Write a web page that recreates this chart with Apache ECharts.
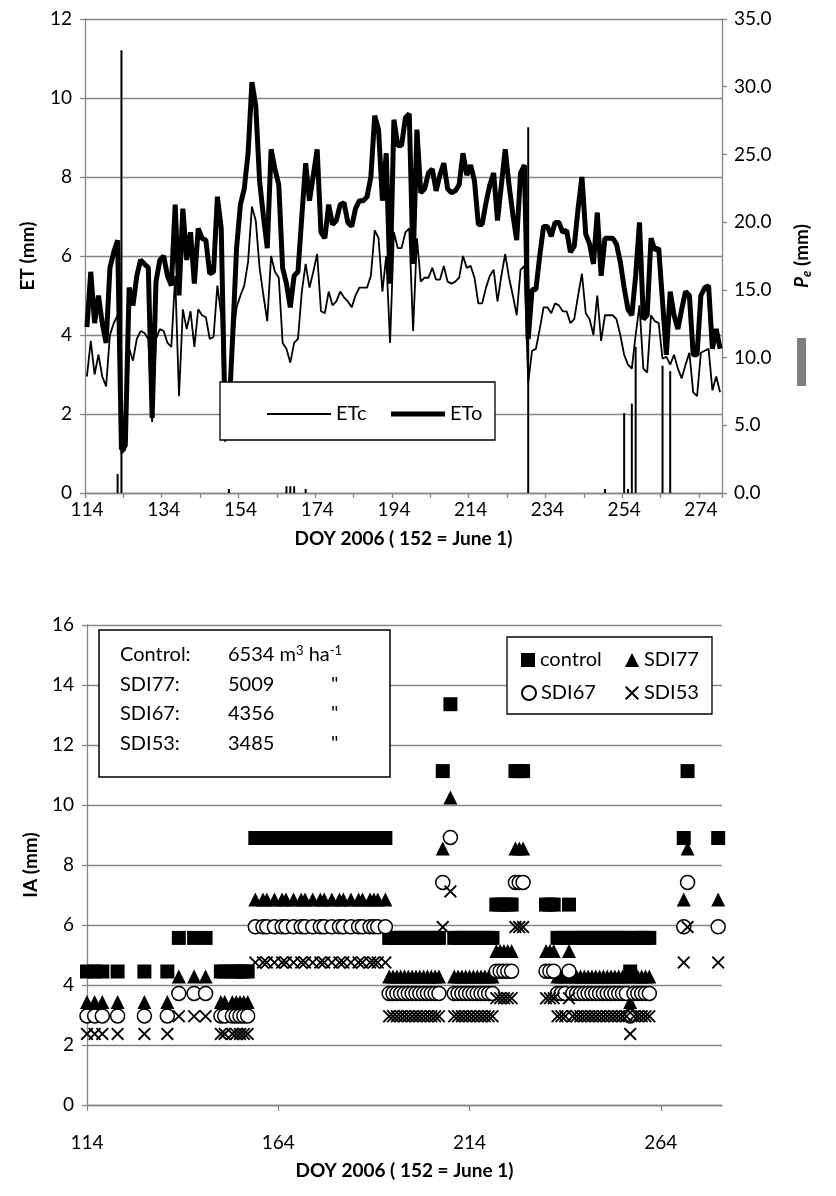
<!DOCTYPE html>
<html><head><meta charset="utf-8">
<script src="https://cdn.jsdelivr.net/npm/echarts@6/dist/echarts.min.js"></script>
<style>html,body{margin:0;padding:0;background:#fff}#c{width:836px;height:1196px}</style>
</head><body><div id="c"></div>
<script>
// ---------- Top chart data ----------
const doy = Array.from({length: 166}, (_, i) => 114 + i); // DOY 114..279 categories
const etc = [
 2.95,3.85,3.0,3.5,2.95,2.7,4.0,4.3,4.5,1.0,
 1.1,3.65,3.35,3.9,4.1,4.05,3.9,1.8,3.9,4.15,
 4.1,3.8,3.7,5.5,2.45,4.65,4.15,4.6,3.7,4.65,
 4.5,4.45,3.9,3.95,5.25,4.5,1.3,1.7,3.8,4.7,
 5.0,5.25,5.85,7.25,6.9,5.7,5.0,4.35,6.0,5.6,
 5.45,3.8,3.65,3.3,3.8,3.9,5.1,5.8,5.2,5.6,
 6.05,4.6,4.55,5.1,4.75,4.85,5.1,4.95,4.85,4.7,
 5.0,5.2,5.2,5.2,5.5,6.65,6.45,5.1,6.0,3.8,
 6.6,6.2,6.2,6.6,6.7,4.1,6.45,5.35,5.45,5.45,
 5.7,5.4,5.4,5.75,5.35,5.3,5.35,5.45,6.0,5.7,
 5.75,5.45,4.8,4.8,5.2,5.5,5.65,4.85,5.5,6.05,
 5.45,5.0,4.5,5.65,5.75,2.8,3.6,3.65,4.15,4.7,
 4.7,4.55,4.8,4.75,4.6,4.6,4.3,4.4,5.0,5.55,
 4.55,4.4,4.0,5.0,3.85,4.5,4.5,4.5,4.4,4.0,
 3.5,3.25,3.15,4.0,4.75,3.15,3.05,4.5,4.35,4.3,
 3.4,3.45,3.25,3.5,3.15,2.9,3.25,3.55,2.55,2.45,
 3.55,3.6,3.65,2.6,2.95,2.55
];
const eto = [
 4.2,5.6,4.3,5.0,4.3,3.8,5.7,6.1,6.4,1.1,
 1.2,5.2,4.75,5.5,5.9,5.8,5.7,1.9,5.35,5.9,
 6.0,5.5,5.25,7.3,5.0,7.2,5.9,6.6,5.3,6.7,
 6.45,6.4,5.55,5.6,7.5,6.7,1.9,2.0,4.0,6.2,
 7.3,7.7,8.6,10.4,9.8,7.9,7.0,6.2,8.7,8.2,
 7.8,5.7,5.3,4.7,5.5,5.6,7.0,8.35,7.4,8.05,
 8.7,6.6,6.45,7.3,6.8,6.9,7.3,7.35,6.85,6.75,
 7.2,7.4,7.4,7.5,8.0,9.55,9.2,7.4,8.6,5.3,
 9.45,8.8,8.8,9.5,9.6,5.8,9.2,7.6,7.7,8.1,
 8.2,7.65,8.05,8.35,7.7,7.6,7.65,7.8,8.6,8.05,
 8.3,7.9,6.8,6.8,7.35,7.8,8.1,6.9,7.8,8.7,
 7.8,7.05,6.4,8.1,8.3,3.9,5.15,5.15,6.0,6.75,
 6.75,6.5,6.85,6.85,6.6,6.65,6.1,6.25,7.2,8.0,
 6.55,6.3,5.8,7.1,5.5,6.45,6.45,6.45,6.3,5.85,
 5.2,4.65,4.5,5.5,6.85,4.4,4.5,6.45,6.15,6.2,
 4.85,3.5,5.1,4.5,4.15,4.65,5.1,5.0,3.5,3.5,
 5.0,5.2,5.25,3.65,4.15,3.65
];
const peDays   = [122,123,151,166,167,168,171,229,249,254,255,256,257,264,266];
const peValues = [1.4,32.7,0.3,0.5,0.5,0.5,0.3,27.0,0.3,5.9,0.3,6.6,10.8,9.4,9.0];
const etTicks = [0,2,4,6,8,10,12];
const peTicks = [0,5,10,15,20,25,30,35];

// ---------- Bottom chart data ----------
const irrDays = [
 114,116,118,122,129,135,
 138,142,145,
 149,150,152,153,154,155,156,
 158,160,161,163,165,166,168,170,171,173,175,176,178,180,181,183,185,186,188,189,190,192,
 193,194,195,196,197,198,199,200,201,202,203,204,205,206,
 207,209,
 210,211,212,213,214,215,216,217,218,219,220,
 221,222,223,224,225,
 226,227,228,
 234,235,236,
 237,238,239,
 240,
 241,242,243,244,245,246,247,248,249,250,251,252,253,254,255,
 256,
 257,258,259,260,261,
 270,271,279
];
const controlIA = [
 4.45,4.45,4.45,4.45,4.45,4.45,
 5.57,5.57,5.57,
 4.45,4.45,4.45,4.45,4.45,4.45,4.45,
 8.9,8.9,8.9,8.9,8.9,8.9,8.9,8.9,8.9,8.9,8.9,8.9,8.9,8.9,8.9,8.9,8.9,8.9,8.9,8.9,8.9,8.9,
 5.57,5.57,5.57,5.57,5.57,5.57,5.57,5.57,5.57,5.57,5.57,5.57,5.57,5.57,
 11.13,13.36,
 5.57,5.57,5.57,5.57,5.57,5.57,5.57,5.57,5.57,5.57,5.57,
 6.68,6.68,6.68,6.68,6.68,
 11.13,11.13,11.13,
 6.68,6.68,6.68,
 5.57,5.57,5.57,
 6.68,
 5.57,5.57,5.57,5.57,5.57,5.57,5.57,5.57,5.57,5.57,5.57,5.57,5.57,5.57,5.57,
 4.45,
 5.57,5.57,5.57,5.57,5.57,
 8.9,11.13,8.9
];
const sdi77IA = [
 3.43,3.43,3.43,3.43,3.43,3.43,
 4.28,4.28,4.28,
 3.43,3.43,3.43,3.43,3.43,3.43,3.43,
 6.85,6.85,6.85,6.85,6.85,6.85,6.85,6.85,6.85,6.85,6.85,6.85,6.85,6.85,6.85,6.85,6.85,6.85,6.85,6.85,6.85,6.85,
 4.28,4.28,4.28,4.28,4.28,4.28,4.28,4.28,4.28,4.28,4.28,4.28,4.28,4.28,
 8.55,10.25,
 4.28,4.28,4.28,4.28,4.28,4.28,4.28,4.28,4.28,4.28,4.28,
 5.13,5.13,5.13,5.13,5.13,
 8.55,8.55,8.55,
 5.13,5.13,5.13,
 4.28,4.28,4.28,
 5.13,
 4.28,4.28,4.28,4.28,4.28,4.28,4.28,4.28,4.28,4.28,4.28,4.28,4.28,4.28,4.28,
 3.43,
 4.28,4.28,4.28,4.28,4.28,
 6.85,8.55,6.85
];
const sdi67IA = [
 2.97,2.97,2.97,2.97,2.97,2.97,
 3.72,3.72,3.72,
 2.97,2.97,2.97,2.97,2.97,2.97,2.97,
 5.94,5.94,5.94,5.94,5.94,5.94,5.94,5.94,5.94,5.94,5.94,5.94,5.94,5.94,5.94,5.94,5.94,5.94,5.94,5.94,5.94,5.94,
 3.72,3.72,3.72,3.72,3.72,3.72,3.72,3.72,3.72,3.72,3.72,3.72,3.72,3.72,
 7.42,8.92,
 3.72,3.72,3.72,3.72,3.72,3.72,3.72,3.72,3.72,3.72,3.72,
 4.46,4.46,4.46,4.46,4.46,
 7.42,7.42,7.42,
 4.46,4.46,4.46,
 3.72,3.72,3.72,
 4.46,
 3.72,3.72,3.72,3.72,3.72,3.72,3.72,3.72,3.72,3.72,3.72,3.72,3.72,3.72,3.72,
 2.97,
 3.72,3.72,3.72,3.72,3.72,
 5.94,7.42,5.94
];
const sdi53IA = [
 2.37,2.37,2.37,2.37,2.37,2.37,
 2.96,2.96,2.96,
 2.37,2.37,2.37,2.37,2.37,2.37,2.37,
 4.75,4.75,4.75,4.75,4.75,4.75,4.75,4.75,4.75,4.75,4.75,4.75,4.75,4.75,4.75,4.75,4.75,4.75,4.75,4.75,4.75,4.75,
 2.96,2.96,2.96,2.96,2.96,2.96,2.96,2.96,2.96,2.96,2.96,2.96,2.96,2.96,
 5.93,7.12,
 2.96,2.96,2.96,2.96,2.96,2.96,2.96,2.96,2.96,2.96,2.96,
 3.56,3.56,3.56,3.56,3.56,
 5.93,5.93,5.93,
 3.56,3.56,3.56,
 2.96,2.96,2.96,
 3.56,
 2.96,2.96,2.96,2.96,2.96,2.96,2.96,2.96,2.96,2.96,2.96,2.96,2.96,2.96,2.96,
 2.37,
 2.96,2.96,2.96,2.96,2.96,
 4.75,5.93,4.75
];
const doyStart = 114, doyEnd = 280;
const boxLines = [
 ['Control:', '6534 m{s|3} ha{s|-1}', ''],
 ['SDI77:', '5009', '"'],
 ['SDI67:', '4356', '"'],
 ['SDI53:', '3485', '"']
];

// ---------- build ----------
const FONT = 'Lato';
const GRID = '#868686';
const peFull = doy.map(d => { const k = peDays.indexOf(d); return k >= 0 ? peValues[k] : null; });
const toXY = vals => irrDays.map((d, i) => [d - doyStart, vals[i]]);
const xPath = 'path://M1,0L5,4L9,0L10,1L6,5L10,9L9,10L5,6L1,10L0,9L4,5L0,1Z';

const chart = echarts.init(document.getElementById('c'), null, {renderer: 'canvas'});
const axisTxt = {color: '#000', fontFamily: FONT, fontSize: 19};
const nameTxt = {color: '#000', fontFamily: FONT, fontSize: 19, fontWeight: 'bold'};

const graphic = [
 {type: 'rect', z: 50, shape: {x: 220, y: 382, width: 275, height: 58}, style: {fill: '#fff', stroke: '#000', lineWidth: 1.3}},
 {type: 'rect', z: 50, shape: {x: 797, y: 338, width: 9, height: 48}, style: {fill: '#7f7f7f'}},
 {type: 'rect', z: 50, shape: {x: 99, y: 630, width: 291, height: 147}, style: {fill: '#fff', stroke: '#000', lineWidth: 1.5}},
 {type: 'rect', z: 50, shape: {x: 507, y: 637, width: 205, height: 77}, style: {fill: '#fff', stroke: '#000', lineWidth: 1.3}}
];
const rowY = [655, 685, 714, 744];
const supRich = {s: {fontFamily: FONT, fontSize: 13, fill: '#000', verticalAlign: 'top', lineHeight: 22}};
boxLines.forEach((r, k) => {
 graphic.push({type: 'text', z: 60, x: 120, y: rowY[k], style: {text: r[0], fill: '#000', font: '20px ' + FONT, verticalAlign: 'middle'}});
 graphic.push({type: 'text', z: 60, x: 228, y: rowY[k], style: {text: r[1], fill: '#000', font: '20px ' + FONT, lineHeight: 22, verticalAlign: 'middle', rich: supRich}});
 if (r[2]) graphic.push({type: 'text', z: 60, x: 331, y: rowY[k], style: {text: r[2], fill: '#000', font: '20px ' + FONT, verticalAlign: 'middle'}});
});

const legText = {color: '#000', fontFamily: FONT, fontSize: 20};
const mkLeg = (names, left, top, w, h, icon) => {
 const o = {data: names, left, top, orient: 'horizontal', selectedMode: false, z: 100,
  itemWidth: w || 14, itemHeight: h || 14, itemGap: 20, textStyle: legText};
 if (icon) o.icon = icon;
 return o;
};

chart.setOption({
 animation: false,
 textStyle: {fontFamily: FONT},
 graphic,
 legend: [
  mkLeg(['ETc'], 262, 399, 64, 2, 'rect'),
  mkLeg(['ETo'], 386, 399, 54, 5, 'rect'),
  mkLeg(['control'], 516, 645),
  mkLeg(['SDI77'], 620, 645),
  mkLeg(['SDI67'], 516, 678),
  mkLeg(['SDI53'], 620, 678)
 ],
 grid: [
  {left: 85, right: 114, top: 19, bottom: 703},
  {left: 87, right: 114, top: 625, bottom: 91}
 ],
 xAxis: [
  {type: 'category', gridIndex: 0, data: doy, boundaryGap: true,
   axisLine: {lineStyle: {color: GRID, width: 1.3}},
   axisTick: {show: true, interval: 9, length: 5, lineStyle: {color: GRID, width: 1.3}},
   axisLabel: Object.assign({interval: 19, margin: 7}, axisTxt),
   splitLine: {show: false},
   name: 'DOY 2006 ( 152 = June 1)', nameLocation: 'middle', nameGap: 36, nameTextStyle: nameTxt},
  {type: 'value', gridIndex: 1, min: 0, max: doyEnd - doyStart, interval: 50,
   axisLine: {lineStyle: {color: GRID, width: 1.3}},
   axisTick: {show: true, length: 6, lineStyle: {color: GRID, width: 1.3}},
   axisLabel: Object.assign({margin: 28, showMaxLabel: false, formatter: v => String(v + doyStart)}, axisTxt),
   splitLine: {show: false},
   name: 'DOY 2006 ( 152 = June 1)', nameLocation: 'middle', nameGap: 56, nameTextStyle: nameTxt}
 ],
 yAxis: [
  {type: 'value', gridIndex: 0, min: etTicks[0], max: etTicks[etTicks.length - 1], interval: 2,
   axisLine: {show: true, lineStyle: {color: GRID, width: 1.3}},
   axisTick: {show: true, length: 5, lineStyle: {color: GRID, width: 1.3}},
   axisLabel: Object.assign({margin: 13}, axisTxt),
   splitLine: {show: true, lineStyle: {color: GRID, width: 1.3}},
   name: 'ET (mm)', nameLocation: 'middle', nameRotate: 90, nameGap: 48, nameTextStyle: nameTxt},
  {type: 'value', gridIndex: 0, position: 'right', min: peTicks[0], max: peTicks[peTicks.length - 1], interval: 5,
   axisLine: {show: true, lineStyle: {color: GRID, width: 1.3}},
   axisTick: {show: true, length: 5, lineStyle: {color: GRID, width: 1.3}},
   axisLabel: Object.assign({margin: 12, formatter: v => v.toFixed(1)}, axisTxt),
   splitLine: {show: false},
   name: '{a|P}{b|e}{c| (mm)}', nameLocation: 'middle', nameRotate: 90, nameGap: 68,
   nameTextStyle: {rich: {
     a: {fontFamily: FONT, fontSize: 19, fontWeight: 'bold', fontStyle: 'italic', color: '#000'},
     b: {fontFamily: FONT, fontSize: 13, fontWeight: 'bold', fontStyle: 'italic', color: '#000', padding: [10, 0, 0, 0]},
     c: {fontFamily: FONT, fontSize: 19, fontWeight: 'bold', color: '#000'}}}},
  {type: 'value', gridIndex: 1, min: 0, max: 16, interval: 2,
   axisLine: {show: true, lineStyle: {color: GRID, width: 1.3}},
   axisTick: {show: true, length: 5, lineStyle: {color: GRID, width: 1.3}},
   axisLabel: Object.assign({margin: 13}, axisTxt),
   splitLine: {show: true, lineStyle: {color: GRID, width: 1.3}},
   name: 'IA (mm)', nameLocation: 'middle', nameRotate: 90, nameGap: 47, nameTextStyle: nameTxt}
 ],
 series: [
  {name: 'Pe', type: 'bar', xAxisIndex: 0, yAxisIndex: 1, data: peFull, barWidth: 2, itemStyle: {color: '#000'}, z: 1},
  {name: 'ETc', type: 'line', xAxisIndex: 0, yAxisIndex: 0, data: etc, symbol: 'none', showSymbol: false,
   lineStyle: {color: '#000', width: 1.8}, itemStyle: {color: '#000'}, z: 2},
  {name: 'ETo', type: 'line', xAxisIndex: 0, yAxisIndex: 0, data: eto, symbol: 'none', showSymbol: false,
   lineStyle: {color: '#000', width: 5}, itemStyle: {color: '#000'}, z: 3},
  {name: 'control', type: 'scatter', xAxisIndex: 1, yAxisIndex: 2, data: toXY(controlIA), symbol: 'rect', symbolSize: 14,
   itemStyle: {color: '#000', opacity: 1}, z: 2},
  {name: 'SDI77', type: 'scatter', xAxisIndex: 1, yAxisIndex: 2, data: toXY(sdi77IA), symbol: 'triangle', symbolSize: 14,
   itemStyle: {color: '#000', opacity: 1}, z: 3},
  {name: 'SDI67', type: 'scatter', xAxisIndex: 1, yAxisIndex: 2, data: toXY(sdi67IA), symbol: 'circle', symbolSize: 14,
   itemStyle: {color: '#fff', borderColor: '#000', borderWidth: 1.5, opacity: 1}, z: 4},
  {name: 'SDI53', type: 'scatter', xAxisIndex: 1, yAxisIndex: 2, data: toXY(sdi53IA), symbol: xPath, symbolSize: 13,
   itemStyle: {color: '#000', opacity: 1}, z: 5}
 ]
});
</script>
</body></html>
